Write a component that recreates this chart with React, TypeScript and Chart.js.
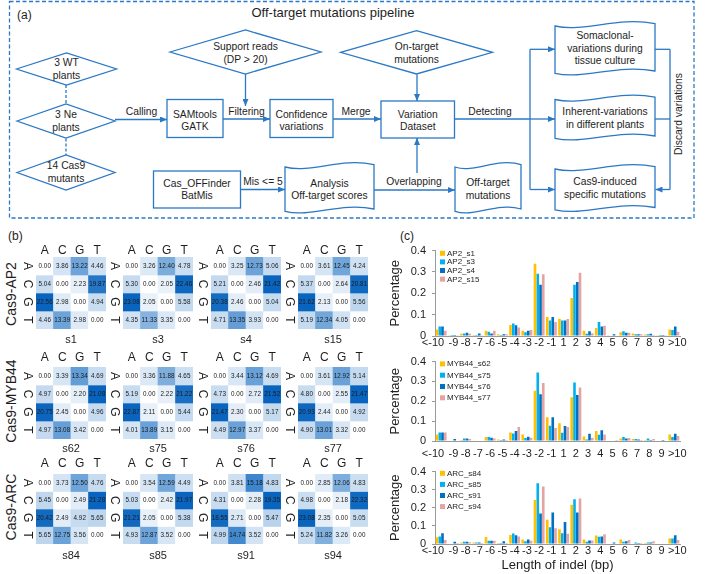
import React, { useEffect, useRef } from 'react';
import { Chart, registerables } from 'chart.js';

Chart.register(...registerables);

const FONT = "'Liberation Sans', Arial, Helvetica, sans-serif";
const TEXT = '#1e1e1e';
const LINE_BLUE = '#2a78c6';
const AXIS_GRAY = '#9a9a9a';
const HEAT_DARK = [8, 100, 190];

Chart.defaults.font.family = FONT;
Chart.defaults.color = TEXT;

// ---------- (b) substitution heatmaps: rows = ref base, cols = alt base ----------
const BASES = ['A', 'C', 'G', 'T'];
const S1 = [[0.0, 3.86, 13.22, 4.46], [5.04, 0.0, 2.23, 19.87], [22.56, 2.98, 0.0, 4.94], [4.46, 13.39, 2.98, 0.0]];
const S3 = [[0.0, 3.26, 12.4, 4.78], [5.3, 0.0, 2.05, 22.46], [23.08, 2.05, 0.0, 5.58], [4.35, 11.33, 3.35, 0.0]];
const S4 = [[0.0, 3.25, 12.73, 5.06], [5.21, 0.0, 2.46, 21.42], [20.38, 2.46, 0.0, 5.04], [4.71, 13.35, 3.93, 0.0]];
const S15 = [[0.0, 3.61, 12.45, 4.24], [5.37, 0.0, 2.64, 20.81], [21.62, 2.13, 0.0, 5.56], [5.19, 12.34, 4.05, 0.0]];
const S62 = [[0.0, 3.39, 13.34, 4.69], [4.97, 0.0, 2.2, 21.08], [20.75, 2.45, 0.0, 4.96], [4.97, 13.08, 3.42, 0.0]];
const S75 = [[0.0, 3.36, 11.88, 4.65], [5.19, 0.0, 2.22, 21.22], [22.87, 2.11, 0.0, 5.44], [4.01, 13.89, 3.15, 0.0]];
const S76 = [[0.0, 3.44, 13.12, 4.69], [4.73, 0.0, 2.72, 21.52], [21.47, 2.3, 0.0, 5.17], [4.49, 12.97, 3.37, 0.0]];
const S77 = [[0.0, 3.61, 12.92, 5.14], [4.8, 0.0, 2.55, 21.47], [20.93, 2.44, 0.0, 4.92], [4.9, 13.01, 3.32, 0.0]];
const S84 = [[0.0, 3.73, 12.5, 4.76], [5.45, 0.0, 2.49, 21.28], [20.42, 2.49, 4.92, 5.65], [5.65, 12.75, 3.56, 0.0]];
const S85 = [[0.0, 3.54, 12.59, 4.49], [5.03, 0.0, 2.42, 21.97], [21.21, 2.05, 0.0, 5.38], [4.93, 12.87, 3.52, 0.0]];
const S91 = [[0.0, 3.81, 15.18, 4.83], [4.31, 0.0, 2.28, 19.35], [18.55, 2.71, 0.0, 5.47], [4.99, 14.74, 3.52, 0.0]];
const S94 = [[0.0, 2.85, 12.06, 4.83], [4.98, 0.0, 2.18, 22.32], [23.08, 2.35, 0.0, 5.05], [5.24, 11.82, 3.26, 0.0]];

const HEAT_TITLES = [['s1', 's3', 's4', 's15'], ['s62', 's75', 's76', 's77'], ['s84', 's85', 's91', 's94']];
const HEAT_VALUES = [[S1, S3, S4, S15], [S62, S75, S76, S77], [S84, S85, S91, S94]];
const GROUP_LABELS = ['Cas9-AP2', 'Cas9-MYB44', 'Cas9-ARC'];

// ---------- (c) indel length distributions ----------
const INDEL_LABELS = ['<-10', '-9', '-8', '-7', '-6', '-5', '-4', '-3', '-2', '-1', '1', '2', '3', '4', '5', '6', '7', '8', '9', '>10'];

const AP2_NAMES = ['AP2_s1', 'AP2_s3', 'AP2_s4', 'AP2_s15'];
const AP2_S1 = [0.03, 0.003, 0.01, 0.005, 0.025, 0.008, 0.052, 0.025, 0.338, 0.089, 0.081, 0.178, 0.025, 0.038, 0.003, 0.018, 0.012, 0.007, 0.003, 0.03];
const AP2_S3 = [0.045, 0.005, 0.012, 0.005, 0.02, 0.005, 0.058, 0.018, 0.292, 0.073, 0.073, 0.24, 0.01, 0.065, 0.0, 0.022, 0.008, 0.008, 0.005, 0.028];
const AP2_S4 = [0.045, 0.005, 0.015, 0.012, 0.012, 0.008, 0.05, 0.025, 0.24, 0.089, 0.073, 0.253, 0.022, 0.045, 0.008, 0.015, 0.008, 0.01, 0.005, 0.045];
const AP2_S15 = [0.025, 0.003, 0.01, 0.003, 0.025, 0.008, 0.04, 0.028, 0.289, 0.065, 0.08, 0.296, 0.013, 0.048, 0.0, 0.015, 0.008, 0.005, 0.003, 0.02];

const MYB_NAMES = ['MYB44_s62', 'MYB44_s75', 'MYB44_s76', 'MYB44_s77'];
const MYB_S62 = [0.033, 0.003, 0.005, 0.003, 0.02, 0.008, 0.043, 0.033, 0.253, 0.12, 0.09, 0.22, 0.023, 0.05, 0.0, 0.013, 0.01, 0.005, 0.003, 0.033];
const MYB_S75 = [0.043, 0.003, 0.013, 0.0, 0.02, 0.005, 0.038, 0.015, 0.345, 0.077, 0.042, 0.295, 0.008, 0.032, 0.0, 0.02, 0.01, 0.012, 0.0, 0.02];
const MYB_S76 = [0.043, 0.01, 0.013, 0.0, 0.016, 0.008, 0.05, 0.022, 0.235, 0.12, 0.075, 0.232, 0.037, 0.054, 0.0, 0.012, 0.008, 0.005, 0.005, 0.037];
const MYB_S77 = [0.043, 0.0, 0.01, 0.0, 0.013, 0.005, 0.07, 0.016, 0.292, 0.065, 0.07, 0.27, 0.017, 0.033, 0.005, 0.015, 0.005, 0.01, 0.0, 0.025];

const ARC_NAMES = ['ARC_s84', 'ARC_s85', 'ARC_s91', 'ARC_s94'];
const ARC_S84 = [0.037, 0.003, 0.008, 0.008, 0.038, 0.005, 0.05, 0.025, 0.243, 0.134, 0.082, 0.217, 0.025, 0.047, 0.0, 0.025, 0.003, 0.005, 0.003, 0.03];
const ARC_S85 = [0.042, 0.0, 0.012, 0.008, 0.018, 0.005, 0.058, 0.015, 0.336, 0.092, 0.06, 0.247, 0.012, 0.04, 0.0, 0.012, 0.008, 0.008, 0.003, 0.03];
const ARC_S91 = [0.06, 0.012, 0.012, 0.008, 0.018, 0.015, 0.048, 0.025, 0.169, 0.174, 0.122, 0.174, 0.02, 0.042, 0.008, 0.015, 0.005, 0.008, 0.003, 0.048];
const ARC_S94 = [0.022, 0.005, 0.01, 0.005, 0.018, 0.005, 0.042, 0.018, 0.317, 0.087, 0.056, 0.252, 0.02, 0.054, 0.0, 0.022, 0.005, 0.015, 0.003, 0.022];

const SERIES_COLORS = ['#FFC000', '#00B0F0', '#0070C0', '#E6A3A3'];

// ---------- Heatmap ----------
const HM_LEFTS = [36, 123, 211, 298];
const HM_ROWS = [
  { top: 257, h: 72, hdrGap: 6, titleGap: 11.3 },
  { top: 367, h: 72, hdrGap: 9.7, titleGap: 10.3 },
  { top: 474, h: 70, hdrGap: 10, titleGap: 12 },
];
const HM_W = 70;
const HM_PAD_L = 22;
const HM_PAD_T = 16;
const HM_PAD_R = 2;
const HM_PAD_B = 20;

function Heatmap(p: any) {
  const ref = useRef<HTMLCanvasElement>(null);
  const W = HM_PAD_L + HM_W + HM_PAD_R;
  const H = HM_PAD_T + p.gridH + HM_PAD_B;
  useEffect(() => {
    const values: number[][] = p.values;
    const max = Math.max(...values.flat());
    const col = (v: number) => {
      const t = max > 0 ? Math.max(0, Math.min(1, v / max)) : 0;
      const r = Math.round(255 + (HEAT_DARK[0] - 255) * t);
      const g = Math.round(255 + (HEAT_DARK[1] - 255) * t);
      const b = Math.round(255 + (HEAT_DARK[2] - 255) * t);
      return `rgb(${r},${g},${b})`;
    };
    const heatText = {
      id: 'heatText',
      afterDatasetsDraw(chart: any) {
        const { ctx, chartArea, scales } = chart;
        const xs = scales.x;
        const ys = scales.yv;
        ctx.save();
        // cell values
        ctx.font = `6.3px ${FONT}`;
        ctx.fillStyle = '#1a1a1a';
        ctx.textAlign = 'center';
        ctx.textBaseline = 'middle';
        chart.data.datasets.forEach((_ds: any, r: number) => {
          const meta = chart.getDatasetMeta(r);
          meta.data.forEach((el: any, c: number) => {
            const { x, y, base } = el.getProps(['x', 'y', 'base'], true);
            ctx.fillText(values[r][c].toFixed(2), x, (y + base) / 2 + 0.3);
          });
        });
        ctx.fillStyle = TEXT;
        // column headers (alt base)
        ctx.font = `12px ${FONT}`;
        chart.data.labels.forEach((lab: string, i: number) => {
          ctx.fillText(lab, xs.getPixelForValue(i), chartArea.top - p.hdrGap);
        });
        // row labels (ref base), rotated clockwise
        BASES.forEach((lab, r) => {
          const cy = (ys.getPixelForValue(r) + ys.getPixelForValue(r + 1)) / 2;
          ctx.save();
          ctx.translate(chartArea.left - 9, cy);
          ctx.rotate(Math.PI / 2);
          ctx.fillText(lab, 0, 0);
          ctx.restore();
        });
        // sample name
        ctx.font = `11px ${FONT}`;
        ctx.fillText(p.title, (chartArea.left + chartArea.right) / 2, chartArea.bottom + p.titleGap);
        ctx.restore();
      },
    };
    const chart = new Chart(ref.current as HTMLCanvasElement, {
      type: 'bar',
      data: {
        labels: BASES,
        datasets: values.map((row, r) => ({
          label: BASES[r],
          data: row.map(() => 1),
          backgroundColor: row.map(col),
          borderWidth: 0,
          barPercentage: 1,
          categoryPercentage: 1,
          yAxisID: 'yv',
        })),
      },
      options: {
        responsive: false,
        animation: false,
        events: [],
        layout: { padding: { top: HM_PAD_T, left: HM_PAD_L, right: HM_PAD_R, bottom: HM_PAD_B } },
        scales: {
          x: { type: 'category', display: false, stacked: true, offset: true },
          yv: { type: 'linear', axis: 'y', display: false, stacked: true, min: 0, max: 4, reverse: true },
        },
        plugins: { legend: { display: false }, tooltip: { enabled: false }, title: { display: false } },
      } as any,
      plugins: [heatText],
    });
    return () => chart.destroy();
  }, []);
  return (
    <canvas
      ref={ref}
      width={W}
      height={H}
      style={{ position: 'absolute', left: p.left - HM_PAD_L, top: p.top - HM_PAD_T, width: W, height: H }}
    />
  );
}

// ---------- Indel bar chart ----------
const BAR_LEFT = 388;
const BAR_W = 321;
const BAR_YAXIS = 47;
const BAR_RIGHT_PAD = 29;
const BAR_TOP_PAD = 8;

function IndelBars(p: any) {
  const ref = useRef<HTMLCanvasElement>(null);
  useEffect(() => {
    const extras = {
      id: 'extras',
      afterDatasetsDraw(chart: any) {
        const { ctx, chartArea, scales } = chart;
        ctx.save();
        // legend inside plot
        ctx.font = `8px ${FONT}`;
        ctx.textBaseline = 'middle';
        ctx.textAlign = 'left';
        chart.data.datasets.forEach((ds: any, i: number) => {
          const cy = chartArea.top + p.legendTop + i * p.legendStep;
          ctx.fillStyle = ds.backgroundColor;
          ctx.fillRect(chartArea.left + 5, cy - 2.5, 5, 5);
          ctx.fillStyle = TEXT;
          ctx.fillText(ds.label, chartArea.left + 12, cy + 0.3);
        });
        // category labels (edge labels kept inside like the original)
        const xs = scales.x;
        const n = chart.data.labels.length;
        ctx.font = `11px ${FONT}`;
        ctx.fillStyle = TEXT;
        const ly = chartArea.bottom + p.xPad + 6.6;
        chart.data.labels.forEach((lab: string, i: number) => {
          const px = xs.getPixelForTick(i);
          if (i === 0) {
            ctx.textAlign = 'right';
            ctx.fillText(lab, px + 3, ly);
          } else if (i === n - 1) {
            ctx.textAlign = 'left';
            ctx.fillText(lab, px - 6, ly);
          } else {
            ctx.textAlign = 'center';
            ctx.fillText(lab, px, ly);
          }
        });
        ctx.restore();
      },
    };
    const chart = new Chart(ref.current as HTMLCanvasElement, {
      type: 'bar',
      data: {
        labels: INDEL_LABELS,
        datasets: p.names.map((n: string, i: number) => ({
          label: n,
          data: p.series[i],
          backgroundColor: SERIES_COLORS[i],
          borderWidth: 0,
          categoryPercentage: 0.9,
          barPercentage: 0.95,
        })),
      },
      options: {
        responsive: false,
        animation: false,
        events: [],
        layout: { padding: { top: BAR_TOP_PAD, left: 0, right: BAR_RIGHT_PAD, bottom: 0 } },
        scales: {
          x: {
            grid: { display: true, drawOnChartArea: false, drawTicks: false },
            border: { display: true, color: AXIS_GRAY, width: 1 },
            ticks: { display: false, autoSkip: false, minRotation: 0, maxRotation: 0 },
            title: p.xTitle
              ? { display: true, text: p.xTitle, font: { size: 13 }, color: TEXT, padding: { top: 0, bottom: 1.2 } }
              : { display: false },
            afterFit: (s: any) => {
              s.height = p.xAxisH;
            },
          },
          y: {
            min: 0,
            max: 0.4,
            ticks: { stepSize: 0.1, padding: 6, font: { size: 11 }, color: TEXT },
            grid: { drawOnChartArea: false, tickLength: 3, color: AXIS_GRAY },
            border: { color: AXIS_GRAY },
            title: { display: true, text: 'Percentage', font: { size: 13 }, color: TEXT, padding: 0 },
            afterFit: (s: any) => {
              s.width = BAR_YAXIS;
            },
          },
        },
        plugins: { legend: { display: false }, tooltip: { enabled: false }, title: { display: false } },
      } as any,
      plugins: [extras],
    });
    return () => chart.destroy();
  }, []);
  return (
    <canvas
      ref={ref}
      width={BAR_W}
      height={p.height}
      style={{ position: 'absolute', left: BAR_LEFT, top: p.top, width: BAR_W, height: p.height }}
    />
  );
}

// ---------- (a) flowchart ----------
function tapePath(x0: number, y0: number, x1: number, y1: number, d = 4) {
  const w = x1 - x0;
  const D = y1 - y0 - 1.4 * d;
  return (
    `M${x0},${y0 + d} C${x0 + w * 0.3},${y0 + d * 2.6} ${x0 + w * 0.62},${y0 - d * 1.4} ${x1},${y0 + d * 0.4} ` +
    `L${x1},${y0 + d * 0.4 + D} C${x0 + w * 0.62},${y0 - d * 1.4 + D} ${x0 + w * 0.3},${y0 + d * 2.6 + D} ${x0},${y0 + d + D} Z`
  );
}

const FC_FS = 10.3;

function Lines({ x, ys, lines }: any) {
  return (
    <>
      {lines.map((t: string, i: number) => (
        <text key={i} x={x} y={ys[i]} textAnchor="middle" dominantBaseline="central" fontSize={FC_FS} fill={TEXT} fontFamily={FONT}>
          {t}
        </text>
      ))}
    </>
  );
}

function Diamond({ cx, cy, hw, hh, lines, ys }: any) {
  return (
    <g>
      <polygon points={`${cx - hw},${cy} ${cx},${cy - hh} ${cx + hw},${cy} ${cx},${cy + hh}`} fill="#fff" stroke={LINE_BLUE} strokeWidth={1.3} />
      <Lines x={cx} ys={ys} lines={lines} />
    </g>
  );
}

function Box({ x, y, w, h, lines, ys }: any) {
  return (
    <g>
      <rect x={x} y={y} width={w} height={h} fill="#fff" stroke={LINE_BLUE} strokeWidth={1.3} />
      <Lines x={x + w / 2} ys={ys} lines={lines} />
    </g>
  );
}

function Tape({ x0, y0, x1, y1, lines, ys }: any) {
  return (
    <g>
      <path d={tapePath(x0, y0, x1, y1)} fill="#fff" stroke={LINE_BLUE} strokeWidth={1.3} />
      <Lines x={(x0 + x1) / 2} ys={ys} lines={lines} />
    </g>
  );
}

function Label({ x, y, t }: any) {
  return (
    <text x={x} y={y} textAnchor="middle" dominantBaseline="central" fontSize={FC_FS} fill={TEXT} fontFamily={FONT}>
      {t}
    </text>
  );
}

function Flowchart() {
  const arrow = (d: string, key: string) => (
    <path key={key} d={d} stroke={LINE_BLUE} strokeWidth={1.3} fill="none" markerEnd="url(#ah)" />
  );
  const line = (d: string, key: string, dash?: string) => (
    <path key={key} d={d} stroke={LINE_BLUE} strokeWidth={1.3} fill="none" strokeDasharray={dash} />
  );
  return (
    <svg width={709} height={232} style={{ position: 'absolute', left: 0, top: 0 }}>
      <defs>
        <marker id="ah" markerUnits="userSpaceOnUse" markerWidth={7} markerHeight={6} refX={7} refY={3} orient="auto">
          <path d="M0,0 L7,3 L0,6 z" fill={LINE_BLUE} />
        </marker>
      </defs>
      <rect x={9.5} y={1.5} width={684.5} height={216.5} fill="none" stroke={LINE_BLUE} strokeWidth={1.3} strokeDasharray="4 2.5" />
      <text x={17} y={15} dominantBaseline="central" fontSize={12} fill={TEXT} fontFamily={FONT}>(a)</text>
      <text x={333} y={12} textAnchor="middle" dominantBaseline="central" fontSize={13} fill={TEXT} fontFamily={FONT}>
        Off-target mutations pipeline
      </text>

      {line('M66,85 L66,104', 'd1', '3 2')}
      {line('M66,138.5 L66,155', 'd2', '3 2')}

      {arrow('M115,119.5 L167,119.5', 'a1')}
      {arrow('M223,119 L270,119', 'a2')}
      {arrow('M245.5,74 L245.5,106', 'a3')}
      {arrow('M333,119 L381,119', 'a4')}
      {arrow('M417,74.5 L417,101', 'a5')}
      {arrow('M417,173 L417,138', 'a6')}
      {arrow('M240.5,189.5 L285,189.5', 'a7')}
      {arrow('M374,190 L455,190', 'a8')}
      {line('M454.5,119 L530,119', 'l1')}
      {line('M530,49.3 L530,189.5', 'l2')}
      {arrow('M530,49.3 L555,49.3', 'a9')}
      {arrow('M530,119 L555,119', 'a10')}
      {arrow('M530,189.5 L555,189.5', 'a11')}
      {line('M655,49.3 L670,49.3', 'l3')}
      {line('M655,119 L670,119', 'l4')}
      {line('M670,49.3 L670,189.5', 'l5')}
      {arrow('M670,189.5 L655.5,189.5', 'a12')}

      <Diamond cx={66.5} cy={69} hw={50} hh={16} lines={['3 WT', 'plants']} ys={[62.5, 75.5]} />
      <Diamond cx={66} cy={121} hw={49} hh={17} lines={['3 Ne', 'plants']} ys={[114.5, 127]} />
      <Diamond cx={66} cy={172.5} hw={49} hh={17.5} lines={['14 Cas9', 'mutants']} ys={[165.5, 178.5]} />
      <Diamond cx={245.5} cy={52} hw={75.5} hh={22} lines={['Support reads', '(DP > 20)']} ys={[46.5, 59.5]} />
      <Diamond cx={416.5} cy={52.3} hw={76} hh={21.7} lines={['On-target', 'mutations']} ys={[46.5, 59.5]} />

      <Box x={167} y={99.5} w={56} h={38} lines={['SAMtools', 'GATK']} ys={[114, 126.5]} />
      <Box x={270} y={99.5} w={63} h={38} lines={['Confidence', 'variations']} ys={[114, 126.5]} />
      <Box x={381} y={101} w={73.5} h={37} lines={['Variation', 'Dataset']} ys={[114, 126]} />
      <Box x={153.5} y={171} w={87} h={37} lines={['Cas_OFFinder', 'BatMis']} ys={[183.5, 195]} />

      <Tape x0={285} y0={163} x1={374} y1={213} lines={['Analysis', 'Off-target scores']} ys={[183, 195]} />
      <Tape x0={455} y0={163} x1={521} y1={213} lines={['Off-target', 'mutations']} ys={[182.7, 195]} />
      <Tape x0={555} y0={22} x1={655} y1={75} lines={['Somaclonal-', 'variations during', 'tissue culture']} ys={[35, 48.3, 60.7]} />
      <Tape x0={555} y0={95.5} x1={655} y1={140} lines={['Inherent-variations', 'in different plants']} ys={[111.7, 124.3]} />
      <Tape x0={555} y0={165} x1={655} y1={211.5} lines={['Cas9-induced', 'specific mutations']} ys={[181.7, 194]} />

      <Label x={141.5} y={111} t="Calling" />
      <Label x={246.5} y={111} t="Filtering" />
      <Label x={356} y={111} t="Merge" />
      <Label x={490} y={111} t="Detecting" />
      <Label x={263} y={181.7} t="Mis <= 5" />
      <Label x={414} y={181.7} t="Overlapping" />
      <text
        x={678}
        y={114}
        transform="rotate(-90 678 114)"
        textAnchor="middle"
        dominantBaseline="central"
        fontSize={FC_FS}
        fill={TEXT}
        fontFamily={FONT}
      >
        Discard variations
      </text>
    </svg>
  );
}

// ---------- App ----------
const GROUP_CENTERS = [294, 401, 507];

export default function App() {
  return (
    <div
      style={{
        position: 'absolute',
        left: 0,
        top: 0,
        width: 709,
        height: 574,
        background: '#fff',
        overflow: 'hidden',
        fontFamily: FONT,
        color: TEXT,
      }}
    >
      <Flowchart />
      <div style={{ position: 'absolute', left: 8, top: 229, fontSize: 12, lineHeight: '14px' }}>(b)</div>
      <div style={{ position: 'absolute', left: 400, top: 229, fontSize: 12, lineHeight: '14px' }}>(c)</div>
      {GROUP_LABELS.map((g, i) => (
        <div
          key={g}
          style={{
            position: 'absolute',
            left: 11 - 60,
            top: GROUP_CENTERS[i] - 8,
            width: 120,
            height: 16,
            lineHeight: '16px',
            fontSize: 14,
            textAlign: 'center',
            transform: 'rotate(-90deg)',
            whiteSpace: 'nowrap',
          }}
        >
          {g}
        </div>
      ))}
      {HEAT_VALUES.map((row, ri) =>
        row.map((vals, ci) => (
          <Heatmap
            key={HEAT_TITLES[ri][ci]}
            title={HEAT_TITLES[ri][ci]}
            values={vals}
            left={HM_LEFTS[ci]}
            top={HM_ROWS[ri].top}
            gridH={HM_ROWS[ri].h}
            hdrGap={HM_ROWS[ri].hdrGap}
            titleGap={HM_ROWS[ri].titleGap}
          />
        ))
      )}
      <IndelBars
        names={AP2_NAMES}
        series={[AP2_S1, AP2_S3, AP2_S4, AP2_S15]}
        top={238}
        height={112}
        xAxisH={14}
        xPad={0}
        legendTop={2.7}
        legendStep={8.6}
      />
      <IndelBars
        names={MYB_NAMES}
        series={[MYB_S62, MYB_S75, MYB_S76, MYB_S77]}
        top={349}
        height={112}
        xAxisH={20}
        xPad={6}
        legendTop={2.3}
        legendStep={11.3}
      />
      <IndelBars
        names={ARC_NAMES}
        series={[ARC_S84, ARC_S85, ARC_S91, ARC_S94]}
        top={459}
        height={115}
        xAxisH={30}
        xPad={0}
        legendTop={1.7}
        legendStep={11.1}
        xTitle="Length of indel (bp)"
      />
    </div>
  );
}
